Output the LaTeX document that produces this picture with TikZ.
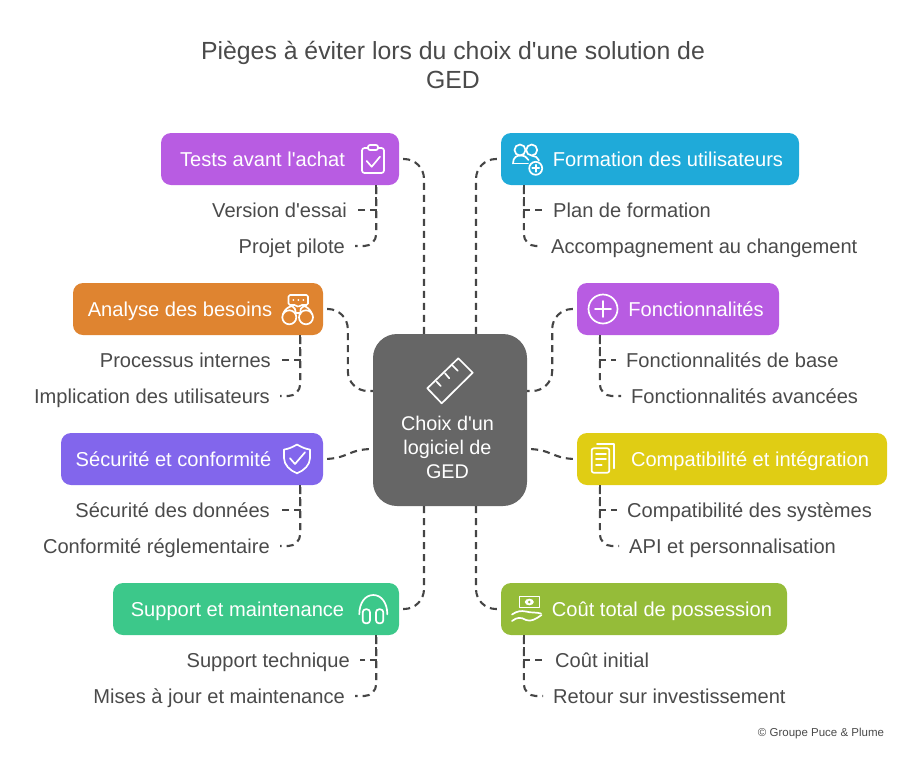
\documentclass[tikz,border=0pt]{standalone}
\usepackage{fontspec}
\setmainfont{Liberation Sans}[Ligatures=TeXOff]
\definecolor{inkc}{HTML}{4A4A4A}
\definecolor{linec}{HTML}{454545}
\definecolor{hubc}{HTML}{666666}
\definecolor{purplec}{HTML}{B85CE2}
\definecolor{bluec}{HTML}{1FAAD9}
\definecolor{orangec}{HTML}{DF8430}
\definecolor{yellowc}{HTML}{E0CD14}
\definecolor{violetc}{HTML}{8266EC}
\definecolor{greenc}{HTML}{3CC88A}
\definecolor{olivec}{HTML}{95BC39}
\tikzset{
  pill/.style={rectangle,rounded corners=10pt,minimum height=52pt,inner sep=0pt,draw=none},
  hubbox/.style={rectangle,rounded corners=24pt,minimum width=154pt,minimum height=172pt,inner sep=0pt,fill=hubc,draw=none},
  pilltext/.style={text=white,inner sep=0pt,text height=18pt,text depth=4pt,font=\fontsize{20.1}{24}\selectfont},
  subl/.style={text=inkc,anchor=east,inner ysep=0pt,inner xsep=10pt,text height=18pt,text depth=4pt,font=\fontsize{20.1}{24}\selectfont},
  subr/.style={text=inkc,anchor=west,inner ysep=0pt,inner xsep=10pt,text height=18pt,text depth=4pt,font=\fontsize{20.1}{24}\selectfont},
  conn/.style={draw=linec,line width=2.1pt,dash pattern=on 7pt off 5pt},
  mainconn/.style={conn,dash phase=8pt,rounded corners=20pt},
  subconn/.style={conn,dash phase=10pt,rounded corners=12pt},
  icon/.style={draw=white,line width=1.7pt,line cap=round,line join=round},
}
\begin{document}
\begin{tikzpicture}[x=1pt,y=-1pt]
\useasboundingbox (0,0) rectangle (912,756);
% title
\node[text=inkc,align=center,font=\fontsize{24.8}{29}\selectfont,inner sep=0pt] (title) at (453,65) {Pièges à éviter lors du choix d'une solution de\\GED};
% hub
\node[hubbox] (hub) at (450,420) {};
\node[text=white,align=center,inner sep=0pt,font=\fontsize{19.8}{24}\selectfont] (hubt) at (447.5,447) {Choix d'un\\logiciel de\\GED};
% pills
\node[pill,fill=purplec,minimum width=238pt] (tests) at (280,159) {};
\node[pill,fill=bluec,minimum width=298pt] (form) at (650,159) {};
\node[pill,fill=orangec,minimum width=250pt] (ana) at (198,309) {};
\node[pill,fill=purplec,minimum width=202pt] (fonc) at (678,309) {};
\node[pill,fill=violetc,minimum width=262pt] (secu) at (192,459) {};
\node[pill,fill=yellowc,minimum width=310pt] (comp) at (732,459) {};
\node[pill,fill=greenc,minimum width=286pt] (supp) at (256,609) {};
\node[pill,fill=olivec,minimum width=286pt] (cout) at (644,609) {};
% pill labels
\node[pilltext] (testsT) at (262.5,159) {Tests avant l'achat};
\node[pilltext] (formT) at (668,159) {Formation des utilisateurs};
\node[pilltext] (anaT) at (180,309) {Analyse des besoins};
\node[pilltext] (foncT) at (696,309) {Fonctionnalités};
\node[pilltext] (secuT) at (173.5,459) {Sécurité et conformité};
\node[pilltext] (compT) at (750,459) {Compatibilité et intégration};
\node[pilltext] (suppT) at (237.5,609) {Support et maintenance};
\node[pilltext] (coutT) at (662,609) {Coût total de possession};
% sub labels
\node[subl] (t1) at (357,210) {Version d'essai};
\node[subl] (t2) at (355,246) {Projet pilote};
\node[subr] (f1) at (543,210) {Plan de formation};
\node[subr] (f2) at (541,246) {Accompagnement au changement};
\node[subl] (a1) at (281,360) {Processus internes};
\node[subl] (a2) at (280,396) {Implication des utilisateurs};
\node[subr] (n1) at (616,360) {Fonctionnalités de base};
\node[subr] (n2) at (621,396) {Fonctionnalités avancées};
\node[subl] (s1) at (280,510) {Sécurité des données};
\node[subl] (s2) at (280,546) {Conformité réglementaire};
\node[subr] (c1) at (617,510) {Compatibilité des systèmes};
\node[subr] (c2) at (619,546) {API et personnalisation};
\node[subl] (u1) at (360,660) {Support technique};
\node[subl] (u2) at (355,696) {Mises à jour et maintenance};
\node[subr] (o1) at (545,660) {Coût initial};
\node[subr] (o2) at (543,696) {Retour sur investissement};
\node[text=inkc,inner sep=0pt,font=\fontsize{11.5}{14}\selectfont] (copy) at (821,733.5) {© Groupe Puce \& Plume};
% main connectors
\draw[mainconn] (tests.east) -| ([xshift=-26pt]hub.north);
\draw[mainconn] (form.west) -| ([xshift=26pt]hub.north);
\draw[mainconn] (supp.east) -| ([xshift=-26pt]hub.south);
\draw[mainconn] (cout.west) -| ([xshift=26pt]hub.south);
\draw[mainconn] (ana.east) -| ([xshift=-25pt,yshift=29pt]hub.west) -- ([yshift=29pt]hub.west);
\draw[mainconn] (fonc.west) -| ([xshift=25pt,yshift=29pt]hub.east) -- ([yshift=29pt]hub.east);
\draw[conn,dash phase=8pt] (secu.east) .. controls +(25,0) and +(-25,0) .. ([yshift=-29pt]hub.west);
\draw[conn,dash phase=8pt] (comp.west) .. controls +(-25,0) and +(25,0) .. ([yshift=-29pt]hub.east);
% sub connectors
\draw[conn] ([xshift=-23pt]tests.south east) |- (t1.east);
\draw[subconn] ([xshift=-23pt]tests.south east) |- (t2.east);
\draw[conn] ([xshift=23pt]form.south west) |- (f1.west);
\draw[subconn] ([xshift=23pt]form.south west) |- (f2.west);
\draw[conn] ([xshift=-23pt]ana.south east) |- (a1.east);
\draw[subconn] ([xshift=-23pt]ana.south east) |- (a2.east);
\draw[conn] ([xshift=23pt]fonc.south west) |- (n1.west);
\draw[subconn] ([xshift=23pt]fonc.south west) |- (n2.west);
\draw[conn] ([xshift=-23pt]secu.south east) |- (s1.east);
\draw[subconn] ([xshift=-23pt]secu.south east) |- (s2.east);
\draw[conn] ([xshift=23pt]comp.south west) |- (c1.west);
\draw[subconn] ([xshift=23pt]comp.south west) |- (c2.west);
\draw[conn] ([xshift=-23pt]supp.south east) |- (u1.east);
\draw[subconn] ([xshift=-23pt]supp.south east) |- (u2.east);
\draw[conn] ([xshift=23pt]cout.south west) |- (o1.west);
\draw[subconn] ([xshift=23pt]cout.south west) |- (o2.west);
% icon: clipboard
\draw[icon,rounded corners=2.5pt] (368,148) -- (362,148) -- (362,173) -- (384,173) -- (384,148) -- (378,148);
\draw[icon,rounded corners=2pt] (368,145) rectangle (378,150);
\draw[icon] (366.7,161) -- (371.7,166.7) -- (380,156.7);
% icon: users plus
\draw[icon] (520,150) circle (5.5pt) (531.7,150) circle (5.5pt);
\draw[icon] (513,163.5) .. controls (513,157) and (517,155.5) .. (520.5,155.5) .. controls (524,155.5) and (527,157) .. (528.5,160);
\draw[icon] (513,163.5) -- (528,163.5);
\draw[icon] (532,155.7) .. controls (535,155.7) and (538,157.5) .. (539,160.5);
\draw[icon] (535.7,168.3) circle (6.5pt);
\draw[icon] (532.2,168.3) -- (539.2,168.3) (535.7,164.8) -- (535.7,171.8);
% icon: binoculars
\draw[icon,rounded corners=1.5pt] (296,305) -- (288.5,305) -- (288.5,295) -- (308,295) -- (308,305) -- (300.5,305) -- (298.3,307.5) -- cycle;
\fill[white] (293.3,300) circle (1pt) (298.3,300) circle (1pt) (303.3,300) circle (1pt);
\draw[icon] (289.3,317.3) circle (7pt) (306,317.3) circle (7pt);
\draw[icon] (283,314) .. controls (285,309) and (288,307) .. (292,306) .. controls (294,307) and (296,309) .. (295.5,314);
\draw[icon] (312,314) .. controls (310,309) and (307,307) .. (304,306) .. controls (301,307) and (300,309) .. (300.5,314);
\draw[icon] (295.5,313) -- (300.5,313);
% icon: plus circle
\draw[icon] (603,309) circle (14.5pt);
\draw[icon] (595,309) -- (611,309) (603,301) -- (603,317);
% icon: ruler
\draw[icon] (458.3,358.3) -- (472.7,372.7) -- (441.7,403.3) -- (427.3,388.3) -- cycle;
\draw[icon] (436.7,381.7) -- (440.7,386) (445,373.3) -- (449.3,378.3) (452.7,365.7) -- (457.7,370.7);
% icon: shield
\draw[icon] (297,444.5) .. controls (292,447.5) and (288,449) .. (284,449.5) -- (284,458) .. controls (284,465) and (290,470.5) .. (297,473.3) .. controls (304,470.5) and (310,465) .. (310,458) -- (310,449.5) .. controls (306,449) and (302,447.5) .. cycle;
\draw[icon] (290,458.3) -- (295,464) -- (305,452.3);
% icon: documents
\draw[icon,rounded corners=2pt] (591.7,448.3) rectangle (609.3,472.7);
\draw[icon] (597,444.3) -- (614.3,444.3) -- (614.3,468.3);
\draw[icon] (596,454.3) -- (606,454.3) (596,459.3) -- (606,459.3) (596,465) -- (601.7,465);
% icon: headphones
\draw[icon] (359.3,614.3) .. controls (359.3,603) and (365,595) .. (373.3,595) .. controls (381.5,595) and (387.3,603) .. (387.3,614.3);
\draw[icon,rounded corners=3pt] (362.7,609.3) rectangle (370,623.3);
\draw[icon,rounded corners=3pt] (376,609.3) rectangle (383.3,623.3);
% icon: money hand
\draw[icon,line width=1.5pt] (519.3,596.7) rectangle (539.3,607.3);
\fill[white] (529.3,602) ellipse (4.5pt and 3.3pt);
\fill[olivec] (529.3,602) circle (1.4pt);
\draw[icon] (512,614.5) .. controls (517,611) and (521,610.5) .. (526,611.5) .. controls (531,613) and (536,612) .. (541,613.5);
\draw[icon] (512,621) .. controls (517,617) and (521,617) .. (526,620) .. controls (531,622) and (536,619) .. (541.5,615);
\end{tikzpicture}
\end{document}
